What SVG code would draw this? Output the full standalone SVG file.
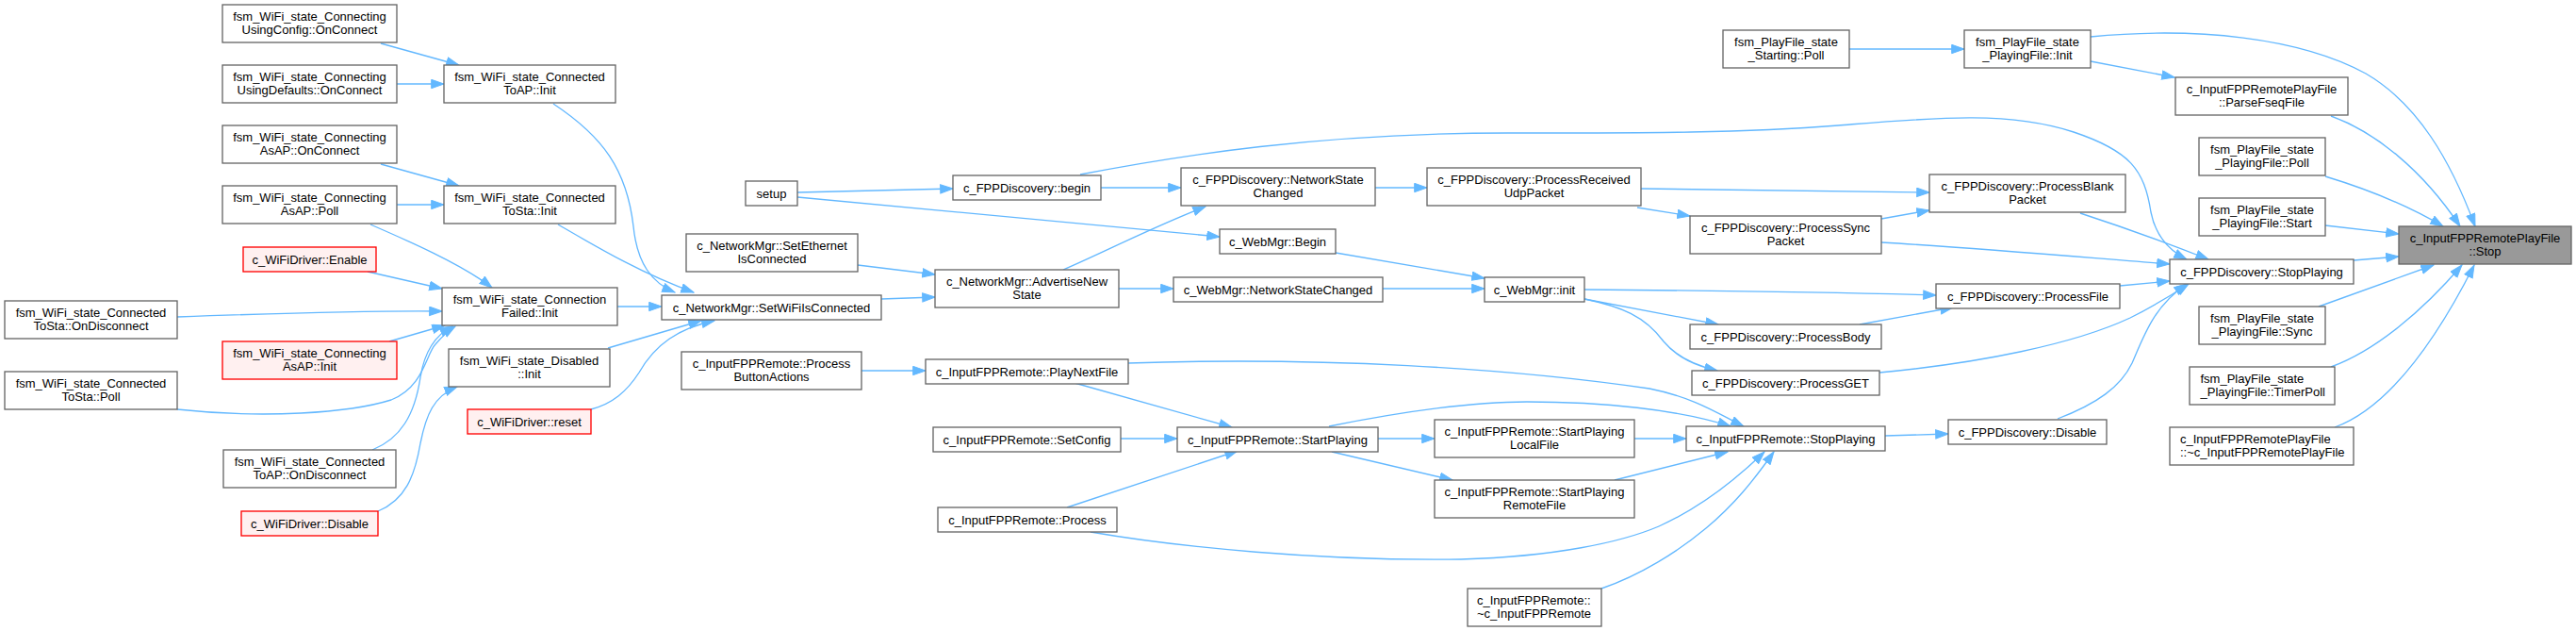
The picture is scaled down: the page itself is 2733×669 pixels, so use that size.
<svg xmlns="http://www.w3.org/2000/svg" width="2733" height="669" viewBox="0 0 2733 669">
<defs>
<style>
.n rect{fill:#ffffff;stroke:#666666;stroke-width:1.33}
.r rect{fill:#fff0f0;stroke:#ff0000;stroke-width:1.33}
.t rect{fill:#999999;stroke:#666666;stroke-width:1.33}
text{font-family:"Liberation Sans",Arial,Helvetica,sans-serif;font-size:13px;fill:#000000;text-anchor:middle}
text.s{text-anchor:start}
#edges path{fill:none;stroke:#63b8ff;stroke-width:1.33;marker-end:url(#a)}
</style>
<marker id="a" markerUnits="userSpaceOnUse" markerWidth="15" markerHeight="11" refX="13.3" refY="4.65" orient="auto" viewBox="-0.5 -0.5 15 11">
<path d="M0,0 L13.3,4.65 L0,9.3 z" fill="#63b8ff" stroke="#63b8ff" stroke-width="1"/>
</marker>
</defs>
<rect x="0" y="0" width="2733" height="669" fill="#ffffff"/>
<g id="edges">
<path d="M404,46 L487,69"/>
<path d="M421,89 L471,89"/>
<path d="M404,174 L487,197"/>
<path d="M421,217 L471,217"/>
<path d="M393,238 C430,254 490,280 522,305"/>
<path d="M390,288 L469,306"/>
<path d="M188,336 C300,332 400,329 469,330"/>
<path d="M413,362 L472,345"/>
<path d="M188,434 C280,444 370,438 415,424 C450,410 452,375 462,365 C468,358 475,351 483,346"/>
<path d="M395,477 C425,465 440,440 446,400 C450,375 460,356 480,346"/>
<path d="M401,542 C430,530 440,505 446,470 C452,440 460,420 485,410"/>
<path d="M587,110 C640,145 665,180 672,240 C676,280 692,300 716,310"/>
<path d="M592,238 C630,260 680,290 736,310"/>
<path d="M655,325 L702,325"/>
<path d="M645,369 L744,340"/>
<path d="M627,434 C650,428 665,415 678,395 C695,365 720,348 758,340"/>
<path d="M910,281 L992,291"/>
<path d="M935,317 L992,315"/>
<path d="M846,204 L1011,200"/>
<path d="M846,209 L1294,251"/>
<path d="M1168,199 L1253,199"/>
<path d="M1128,286 C1170,268 1220,242 1279,219"/>
<path d="M1187,306 L1245,306"/>
<path d="M1459,199 L1514,199"/>
<path d="M1417,268 L1575,295"/>
<path d="M1467,306 L1575,306"/>
<path d="M1741,200 L2047,204"/>
<path d="M1737,220 L1793,229"/>
<path d="M1996,232 L2047,223"/>
<path d="M2207,226 C2250,240 2300,258 2343,275"/>
<path d="M1996,257 C2100,263 2200,272 2302,280"/>
<path d="M1681,307 C1800,308 1950,310 2054,313"/>
<path d="M1681,317 L1823,344"/>
<path d="M1681,317 C1720,325 1745,335 1765,362 C1780,380 1800,388 1822,393"/>
<path d="M1973,344 L2072,326"/>
<path d="M2249,303 L2302,298"/>
<path d="M1994,395 C2100,385 2200,365 2260,337 C2290,322 2305,312 2322,301"/>
<path d="M2183,444 C2225,428 2250,410 2262,385 C2275,355 2285,325 2320,301"/>
<path d="M1146,185 C1250,165 1400,141 1600,141 C1750,141 1850,141 1950,133 C2050,125 2130,117 2200,140 C2260,160 2275,180 2282,225 C2287,250 2300,265 2320,275"/>
<path d="M2218,65 L2307,82"/>
<path d="M1962,52 L2084,52"/>
<path d="M2218,39 C2330,28 2440,40 2510,78 C2565,110 2600,170 2626,240"/>
<path d="M2473,123 C2520,140 2570,180 2610,240"/>
<path d="M2467,187 C2510,200 2550,215 2592,240"/>
<path d="M2467,239 L2545,248"/>
<path d="M2497,276 L2545,272"/>
<path d="M2460,325 L2582,281"/>
<path d="M2473,389 C2520,372 2570,330 2612,281"/>
<path d="M2477,453 C2540,430 2590,350 2625,281"/>
<path d="M914,393 L982,393"/>
<path d="M1140,406 L1307,453"/>
<path d="M1189,465 L1249,465"/>
<path d="M1132,538 L1313,478"/>
<path d="M1462,465 L1522,465"/>
<path d="M1413,479 L1541,509"/>
<path d="M1197,385 C1400,378 1600,390 1750,412 C1800,422 1825,440 1850,452"/>
<path d="M1410,452 C1480,438 1560,426 1620,426 C1700,426 1780,434 1836,452"/>
<path d="M1734,465 L1789,465"/>
<path d="M1713,509 L1833,479"/>
<path d="M1157,564 C1250,580 1400,595 1550,593 C1650,590 1720,575 1760,558 C1800,540 1840,510 1872,479"/>
<path d="M1699,624 C1740,610 1780,585 1810,560 C1840,535 1860,510 1882,479"/>
<path d="M2000,462 L2067,460"/>
</g>
<g id="n1" class="n"><rect x="236" y="5" width="185" height="40"/><text x="328.5" y="22">fsm_WiFi_state_Connecting</text><text x="328.5" y="36">UsingConfig::OnConnect</text></g>
<g id="n2" class="n"><rect x="236" y="69" width="185" height="40"/><text x="328.5" y="86">fsm_WiFi_state_Connecting</text><text x="328.5" y="100">UsingDefaults::OnConnect</text></g>
<g id="n3" class="n"><rect x="236" y="133" width="185" height="40"/><text x="328.5" y="150">fsm_WiFi_state_Connecting</text><text x="328.5" y="164">AsAP::OnConnect</text></g>
<g id="n4" class="n"><rect x="236" y="197" width="185" height="40"/><text x="328.5" y="214">fsm_WiFi_state_Connecting</text><text x="328.5" y="228">AsAP::Poll</text></g>
<g id="n5" class="r"><rect x="258" y="262" width="141" height="26"/><text x="328.5" y="279.5">c_WiFiDriver::Enable</text></g>
<g id="n6" class="n"><rect x="5" y="319" width="183" height="40"/><text x="96.5" y="336">fsm_WiFi_state_Connected</text><text x="96.5" y="350">ToSta::OnDisconnect</text></g>
<g id="n7" class="r"><rect x="236" y="362" width="185" height="40"/><text x="328.5" y="379">fsm_WiFi_state_Connecting</text><text x="328.5" y="393">AsAP::Init</text></g>
<g id="n8" class="n"><rect x="5" y="394" width="183" height="40"/><text x="96.5" y="411">fsm_WiFi_state_Connected</text><text x="96.5" y="425">ToSta::Poll</text></g>
<g id="n9" class="n"><rect x="237" y="477" width="183" height="40"/><text x="328.5" y="494">fsm_WiFi_state_Connected</text><text x="328.5" y="508">ToAP::OnDisconnect</text></g>
<g id="n10" class="r"><rect x="256" y="542" width="145" height="26"/><text x="328.5" y="559.5">c_WiFiDriver::Disable</text></g>
<g id="n11" class="n"><rect x="471" y="69" width="182" height="40"/><text x="562" y="86">fsm_WiFi_state_Connected</text><text x="562" y="100">ToAP::Init</text></g>
<g id="n12" class="n"><rect x="471" y="197" width="182" height="40"/><text x="562" y="214">fsm_WiFi_state_Connected</text><text x="562" y="228">ToSta::Init</text></g>
<g id="n13" class="n"><rect x="469" y="305" width="186" height="40"/><text x="562" y="322">fsm_WiFi_state_Connection</text><text x="562" y="336">Failed::Init</text></g>
<g id="n14" class="n"><rect x="476" y="370" width="171" height="40"/><text x="561.5" y="387">fsm_WiFi_state_Disabled</text><text x="561.5" y="401">::Init</text></g>
<g id="n15" class="r"><rect x="496" y="434" width="131" height="26"/><text x="561.5" y="451.5">c_WiFiDriver::reset</text></g>
<g id="n16" class="n"><rect x="791" y="192" width="55" height="26"/><text x="818.5" y="209.5">setup</text></g>
<g id="n17" class="n"><rect x="728" y="248" width="182" height="40"/><text x="819" y="265">c_NetworkMgr::SetEthernet</text><text x="819" y="279">IsConnected</text></g>
<g id="n18" class="n"><rect x="702" y="313" width="233" height="26"/><text x="818.5" y="330.5">c_NetworkMgr::SetWiFiIsConnected</text></g>
<g id="n19" class="n"><rect x="723" y="373" width="191" height="40"/><text x="818.5" y="390">c_InputFPPRemote::Process</text><text x="818.5" y="404">ButtonActions</text></g>
<g id="n20" class="n"><rect x="1011" y="186" width="157" height="26"/><text x="1089.5" y="203.5">c_FPPDiscovery::begin</text></g>
<g id="n21" class="n"><rect x="1253" y="178" width="206" height="40"/><text x="1356" y="195">c_FPPDiscovery::NetworkState</text><text x="1356" y="209">Changed</text></g>
<g id="n22" class="n"><rect x="1294" y="243" width="123" height="26"/><text x="1355.5" y="260.5">c_WebMgr::Begin</text></g>
<g id="n23" class="n"><rect x="992" y="286" width="195" height="40"/><text x="1089.5" y="303">c_NetworkMgr::AdvertiseNew</text><text x="1089.5" y="317">State</text></g>
<g id="n24" class="n"><rect x="1245" y="294" width="222" height="26"/><text x="1356" y="311.5">c_WebMgr::NetworkStateChanged</text></g>
<g id="n25" class="n"><rect x="982" y="381" width="215" height="26"/><text x="1089.5" y="398.5">c_InputFPPRemote::PlayNextFile</text></g>
<g id="n26" class="n"><rect x="990" y="453" width="199" height="26"/><text x="1089.5" y="470.5">c_InputFPPRemote::SetConfig</text></g>
<g id="n27" class="n"><rect x="1249" y="453" width="213" height="26"/><text x="1355.5" y="470.5">c_InputFPPRemote::StartPlaying</text></g>
<g id="n28" class="n"><rect x="995" y="538" width="190" height="26"/><text x="1090" y="555.5">c_InputFPPRemote::Process</text></g>
<g id="n29" class="n"><rect x="1514" y="178" width="227" height="40"/><text x="1627.5" y="195">c_FPPDiscovery::ProcessReceived</text><text x="1627.5" y="209">UdpPacket</text></g>
<g id="n30" class="n"><rect x="1575" y="294" width="106" height="26"/><text x="1628" y="311.5">c_WebMgr::init</text></g>
<g id="n31" class="n"><rect x="1522" y="445" width="212" height="40"/><text x="1628" y="462">c_InputFPPRemote::StartPlaying</text><text x="1628" y="476">LocalFile</text></g>
<g id="n32" class="n"><rect x="1522" y="509" width="212" height="40"/><text x="1628" y="526">c_InputFPPRemote::StartPlaying</text><text x="1628" y="540">RemoteFile</text></g>
<g id="n33" class="n"><rect x="1557" y="624" width="142" height="40"/><text class="s" x="1567" y="641">c_InputFPPRemote::</text><text class="s" x="1567" y="655">~c_InputFPPRemote</text></g>
<g id="n34" class="n"><rect x="1828" y="32" width="134" height="40"/><text x="1895" y="49">fsm_PlayFile_state</text><text x="1895" y="63">_Starting::Poll</text></g>
<g id="n35" class="n"><rect x="2084" y="32" width="134" height="40"/><text x="2151" y="49">fsm_PlayFile_state</text><text x="2151" y="63">_PlayingFile::Init</text></g>
<g id="n36" class="n"><rect x="2047" y="185" width="208" height="40"/><text x="2151" y="202">c_FPPDiscovery::ProcessBlank</text><text x="2151" y="216">Packet</text></g>
<g id="n37" class="n"><rect x="1793" y="229" width="203" height="40"/><text x="1894.5" y="246">c_FPPDiscovery::ProcessSync</text><text x="1894.5" y="260">Packet</text></g>
<g id="n38" class="n"><rect x="2054" y="301" width="195" height="26"/><text x="2151.5" y="318.5">c_FPPDiscovery::ProcessFile</text></g>
<g id="n39" class="n"><rect x="1793" y="344" width="203" height="26"/><text x="1894.5" y="361.5">c_FPPDiscovery::ProcessBody</text></g>
<g id="n40" class="n"><rect x="1795" y="393" width="199" height="26"/><text x="1894.5" y="410.5">c_FPPDiscovery::ProcessGET</text></g>
<g id="n41" class="n"><rect x="1789" y="452" width="211" height="26"/><text x="1894.5" y="469.5">c_InputFPPRemote::StopPlaying</text></g>
<g id="n42" class="n"><rect x="2067" y="445" width="168" height="26"/><text x="2151" y="462.5">c_FPPDiscovery::Disable</text></g>
<g id="n43" class="n"><rect x="2308" y="82" width="183" height="40"/><text x="2399.5" y="99">c_InputFPPRemotePlayFile</text><text x="2399.5" y="113">::ParseFseqFile</text></g>
<g id="n44" class="n"><rect x="2333" y="146" width="134" height="40"/><text x="2400" y="163">fsm_PlayFile_state</text><text x="2400" y="177">_PlayingFile::Poll</text></g>
<g id="n45" class="n"><rect x="2333" y="210" width="134" height="40"/><text x="2400" y="227">fsm_PlayFile_state</text><text x="2400" y="241">_PlayingFile::Start</text></g>
<g id="n46" class="t"><rect x="2545" y="240" width="183" height="40"/><text x="2636.5" y="257">c_InputFPPRemotePlayFile</text><text x="2636.5" y="271">::Stop</text></g>
<g id="n47" class="n"><rect x="2302" y="275" width="195" height="26"/><text x="2399.5" y="292.5">c_FPPDiscovery::StopPlaying</text></g>
<g id="n48" class="n"><rect x="2333" y="325" width="134" height="40"/><text x="2400" y="342">fsm_PlayFile_state</text><text x="2400" y="356">_PlayingFile::Sync</text></g>
<g id="n49" class="n"><rect x="2323" y="389" width="154" height="40"/><text class="s" x="2334.5" y="406">fsm_PlayFile_state</text><text class="s" x="2334.5" y="420">_PlayingFile::TimerPoll</text></g>
<g id="n50" class="n"><rect x="2302" y="453" width="195" height="40"/><text class="s" x="2313" y="470">c_InputFPPRemotePlayFile</text><text class="s" x="2313" y="484">::~c_InputFPPRemotePlayFile</text></g>
</svg>
